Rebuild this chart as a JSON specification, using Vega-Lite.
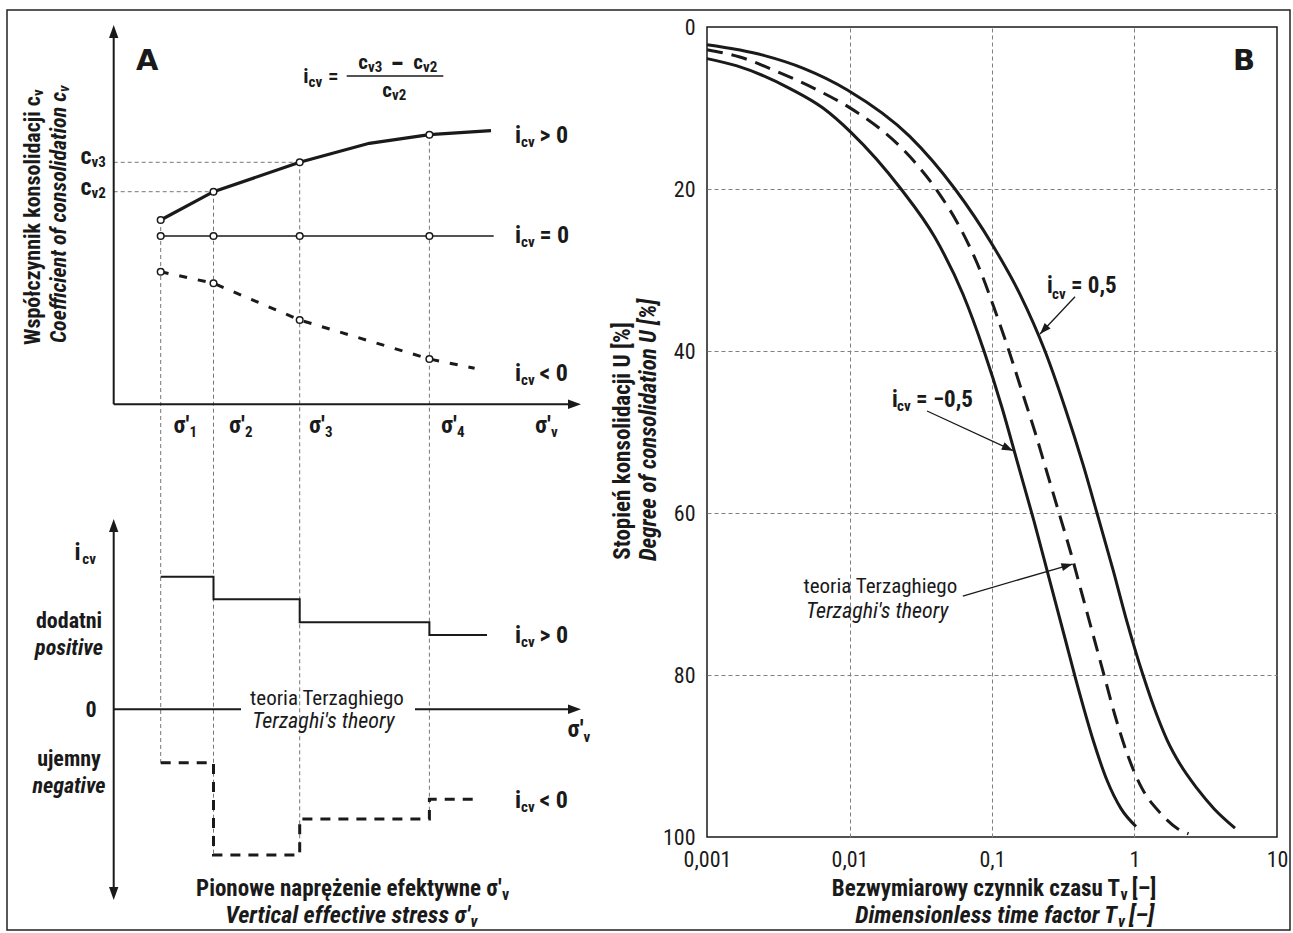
{
"$schema":"https://vega.github.io/schema/vega-lite/v6.json",
"background":"white",
"padding":{"left":6,"top":9,"right":0,"bottom":0},
"bounds":"flush",
"spacing":80,
"config":{
 "text":{"font":"Liberation Sans Narrow, Arial Narrow, Roboto Condensed, DejaVu Sans Condensed, sans-serif","color":"#1a1a1a","align":"left","baseline":"alphabetic"},
 "axis":{"labelFont":"Liberation Sans Narrow, Arial Narrow, Roboto Condensed, DejaVu Sans Condensed, sans-serif","labelColor":"#1a1a1a"}
},
"datasets":{
 "frame":[{"x":0,"y":-1.7,"x2":128.3,"y2":90.3}],
 "axes":[
  {"x":10.67,"y":37.73,"x2":10.67,"y2":1.0},
  {"x":10.67,"y":37.73,"x2":56.4,"y2":37.73},
  {"x":10.67,"y":50.4,"x2":10.67,"y2":86.1},
  {"x":10.67,"y":68.23,"x2":23.4,"y2":68.23},
  {"x":40.8,"y":68.23,"x2":56.4,"y2":68.23}
 ],
 "heads":[
  {"x":10.67,"y":-0.2,"dir":0},
  {"x":57.4,"y":37.73,"dir":90},
  {"x":10.67,"y":49.2,"dir":0},
  {"x":10.67,"y":87.3,"dir":180},
  {"x":57.4,"y":68.23,"dir":90}
 ],
 "frac":[{"x":33.97,"y":4.9,"x2":43.63,"y2":4.9}],
 "guides":[
  {"x":10.67,"y":13.53,"x2":29.27,"y2":13.53},
  {"x":10.67,"y":16.47,"x2":20.65,"y2":16.47},
  {"x":15.37,"y":19.3,"x2":15.37,"y2":73.57},
  {"x":20.65,"y":16.47,"x2":20.65,"y2":82.8},
  {"x":29.27,"y":13.53,"x2":29.27,"y2":82.8},
  {"x":42.24,"y":10.77,"x2":42.24,"y2":79.2}
 ],
 "cv":[
  {"x":15.37,"y":19.3,"s":"inc"},{"x":20.65,"y":16.47,"s":"inc"},{"x":29.27,"y":13.53,"s":"inc"},{"x":36.23,"y":11.63,"s":"inc"},{"x":42.24,"y":10.77,"s":"inc"},{"x":48.4,"y":10.37,"s":"inc"},
  {"x":15.37,"y":20.9,"s":"zero"},{"x":48.67,"y":20.9,"s":"zero"},
  {"x":15.37,"y":24.47,"s":"dec"},{"x":20.65,"y":25.63,"s":"dec"},{"x":29.27,"y":29.3,"s":"dec"},{"x":42.24,"y":33.2,"s":"dec"},{"x":46.76,"y":34.13,"s":"dec"}
 ],
 "markers":[
  {"x":15.37,"y":19.3},{"x":20.65,"y":16.47},{"x":29.27,"y":13.53},{"x":42.24,"y":10.77},
  {"x":15.37,"y":20.9},{"x":20.65,"y":20.9},{"x":29.27,"y":20.9},{"x":42.24,"y":20.9},
  {"x":15.37,"y":24.47},{"x":20.65,"y":25.63},{"x":29.27,"y":29.3},{"x":42.24,"y":33.2}
 ],
 "steps":[
  {"x":15.37,"y":54.97,"s":"pos"},{"x":20.65,"y":57.23,"s":"pos"},{"x":29.27,"y":59.53,"s":"pos"},{"x":42.24,"y":60.8,"s":"pos"},{"x":48.0,"y":60.8,"s":"pos"},
  {"x":15.37,"y":73.57,"s":"neg"},{"x":20.65,"y":82.8,"s":"neg"},{"x":29.27,"y":79.2,"s":"neg"},{"x":42.24,"y":77.23,"s":"neg"},{"x":46.76,"y":77.23,"s":"neg"}
 ],
 "atext":[
  {"x":50.8,"y":11.6,"t":"i","role":"main"},{"x":53.25,"y":11.6,"t":"> 0","role":"main"},
  {"x":50.8,"y":21.6,"t":"i","role":"main"},{"x":53.25,"y":21.6,"t":"= 0","role":"main"},
  {"x":50.8,"y":35.4,"t":"i","role":"main"},{"x":53.25,"y":35.4,"t":"< 0","role":"main"},
  {"x":50.8,"y":61.63,"t":"i","role":"main"},{"x":53.25,"y":61.63,"t":"> 0","role":"main"},
  {"x":50.8,"y":78.13,"t":"i","role":"main"},{"x":53.25,"y":78.13,"t":"< 0","role":"main"},
  {"x":6.76,"y":53.3,"t":"i","role":"main"},
  {"x":18.24,"y":40.6,"t":"σ'","role":"mainr"},{"x":23.8,"y":40.6,"t":"σ'","role":"mainr"},{"x":31.8,"y":40.6,"t":"σ'","role":"mainr"},{"x":45.0,"y":40.6,"t":"σ'","role":"mainr"},{"x":54.4,"y":40.6,"t":"σ'","role":"mainr"},
  {"x":57.66,"y":71.0,"t":"σ'","role":"mainr"},
  {"x":8.45,"y":13.7,"t":"c","role":"mainr"},{"x":8.45,"y":16.8,"t":"c","role":"mainr"},
  {"x":51.4,"y":12.0,"t":"cv","role":"sub"},{"x":51.4,"y":22.0,"t":"cv","role":"sub"},{"x":51.4,"y":35.8,"t":"cv","role":"sub"},
  {"x":51.4,"y":61.97,"t":"cv","role":"sub"},{"x":51.4,"y":78.47,"t":"cv","role":"sub"},{"x":7.53,"y":53.7,"t":"cv","role":"sub"},
  {"x":18.24,"y":41.0,"t":"1","role":"sub"},{"x":23.8,"y":41.0,"t":"2","role":"sub"},{"x":31.8,"y":41.0,"t":"3","role":"sub"},{"x":45.0,"y":41.0,"t":"4","role":"sub"},{"x":54.4,"y":41.0,"t":"v","role":"sub"},
  {"x":57.66,"y":71.5,"t":"v","role":"sub"},
  {"x":8.45,"y":14.0,"t":"v3","role":"sub"},{"x":8.45,"y":17.1,"t":"v2","role":"sub"},
  {"x":32.1,"y":5.6,"t":"=","role":"fmain"},
  {"x":38.35,"y":4.55,"t":"−","role":"fminus"},
  {"x":30.15,"y":5.6,"t":"i","role":"fmainr"},{"x":36.1,"y":4.2,"t":"c","role":"fmainr"},{"x":41.6,"y":4.2,"t":"c","role":"fmainr"},{"x":38.5,"y":7.0,"t":"c","role":"fmainr"},
  {"x":30.15,"y":6.0,"t":"cv","role":"fsub"},{"x":36.1,"y":4.5,"t":"v3","role":"fsub"},{"x":41.6,"y":4.5,"t":"v2","role":"fsub"},{"x":38.5,"y":7.3,"t":"v2","role":"fsub"},
  {"x":12.9,"y":4.3,"t":"A","role":"big"},
  {"x":6.2,"y":60.1,"t":"dodatni","role":"cbold"},{"x":6.2,"y":73.9,"t":"ujemny","role":"cbold"},{"x":8.4,"y":68.97,"t":"0","role":"cbold"},
  {"x":6.2,"y":62.75,"t":"positive","role":"cbi"},{"x":6.2,"y":76.55,"t":"negative","role":"cbi"},
  {"x":32.0,"y":67.8,"t":"teoria Terzaghiego","role":"creg"},
  {"x":31.64,"y":70.13,"t":"Terzaghi's theory","role":"cital"},
  {"x":49.47,"y":86.9,"t":"Pionowe naprężenie efektywne σ'","role":"tr"},{"x":111.3,"y":86.9,"t":"Bezwymiarowy czynnik czasu T","role":"tr"},
  {"x":46.3,"y":89.63,"t":"Vertical effective stress σ'","role":"tri"},{"x":111.0,"y":89.63,"t":"Dimensionless time factor T","role":"tri"},
  {"x":49.5,"y":87.3,"t":"v","role":"ts"},{"x":111.35,"y":87.3,"t":"v","role":"ts"},
  {"x":46.35,"y":90.0,"t":"v","role":"tsi"},{"x":111.1,"y":90.0,"t":"v","role":"tsi"},
  {"x":112.47,"y":86.9,"t":"[–]","role":"tl"},
  {"x":112.2,"y":89.63,"t":"[–]","role":"tli"},
  {"x":3.3,"y":6.9,"t":"Współczynnik konsolidacji c","role":"rot"},
  {"x":5.9,"y":6.5,"t":"Coefficient of consolidation c","role":"roti"},
  {"x":3.6,"y":6.9,"t":"v","role":"rotsub"},
  {"x":6.2,"y":6.5,"t":"v","role":"rotsubi"},
  {"x":62.3,"y":41.4,"t":"Stopień konsolidacji U [%]","role":"rotc"},
  {"x":64.9,"y":40.3,"t":"Degree of consolidation U [%]","role":"rotci"}
 ],
 "U":[
  {"Tv":0.001,"U":2.2,"c":"pos"},{"Tv":0.0025,"U":3.5,"c":"pos"},{"Tv":0.004755,"U":5.1,"c":"pos"},{"Tv":0.00973,"U":7.8,"c":"pos"},{"Tv":0.02646,"U":13.5,"c":"pos"},{"Tv":0.055,"U":20,"c":"pos"},{"Tv":0.1016,"U":27,"c":"pos"},{"Tv":0.1572,"U":33,"c":"pos"},{"Tv":0.2354,"U":40,"c":"pos"},{"Tv":0.3253,"U":47,"c":"pos"},{"Tv":0.4351,"U":54,"c":"pos"},{"Tv":0.5453,"U":60,"c":"pos"},{"Tv":0.7064,"U":67,"c":"pos"},{"Tv":0.8717,"U":73,"c":"pos"},{"Tv":1.147,"U":80,"c":"pos"},{"Tv":1.439,"U":85,"c":"pos"},{"Tv":1.691,"U":88,"c":"pos"},{"Tv":2.086,"U":91,"c":"pos"},{"Tv":2.746,"U":94,"c":"pos"},{"Tv":3.613,"U":96.5,"c":"pos"},{"Tv":5.074,"U":98.9,"c":"pos"},
  {"Tv":0.001,"U":2.8,"c":"terz"},{"Tv":0.0017,"U":3.7,"c":"terz"},{"Tv":0.0031,"U":5.5,"c":"terz"},{"Tv":0.0063,"U":8.0,"c":"terz"},{"Tv":0.0097,"U":9.8,"c":"terz"},{"Tv":0.0265,"U":16,"c":"terz"},{"Tv":0.04046,"U":20,"c":"terz"},{"Tv":0.06062,"U":25,"c":"terz"},{"Tv":0.08235,"U":30,"c":"terz"},{"Tv":0.105,"U":35,"c":"terz"},{"Tv":0.1316,"U":40,"c":"terz"},{"Tv":0.1624,"U":45,"c":"terz"},{"Tv":0.2003,"U":50,"c":"terz"},{"Tv":0.2432,"U":55,"c":"terz"},{"Tv":0.2953,"U":60,"c":"terz"},{"Tv":0.3584,"U":65,"c":"terz"},{"Tv":0.4281,"U":70,"c":"terz"},{"Tv":0.5114,"U":75,"c":"terz"},{"Tv":0.6109,"U":80,"c":"terz"},{"Tv":0.7298,"U":85,"c":"terz"},{"Tv":0.9003,"U":90,"c":"terz"},{"Tv":1.129,"U":94,"c":"terz"},{"Tv":1.51,"U":97,"c":"terz"},{"Tv":2.02,"U":99,"c":"terz"},{"Tv":2.393,"U":99.6,"c":"terz"},
  {"Tv":0.001,"U":3.9,"c":"neg"},{"Tv":0.001624,"U":4.8,"c":"neg"},{"Tv":0.003824,"U":7.6,"c":"neg"},{"Tv":0.006516,"U":10,"c":"neg"},{"Tv":0.01024,"U":13,"c":"neg"},{"Tv":0.02298,"U":20,"c":"neg"},{"Tv":0.03981,"U":26,"c":"neg"},{"Tv":0.06258,"U":33,"c":"neg"},{"Tv":0.08788,"U":40,"c":"neg"},{"Tv":0.1176,"U":47,"c":"neg"},{"Tv":0.1522,"U":54,"c":"neg"},{"Tv":0.1971,"U":61,"c":"neg"},{"Tv":0.2512,"U":68,"c":"neg"},{"Tv":0.32,"U":75,"c":"neg"},{"Tv":0.4078,"U":82,"c":"neg"},{"Tv":0.5114,"U":88,"c":"neg"},{"Tv":0.6412,"U":93,"c":"neg"},{"Tv":0.8043,"U":96.5,"c":"neg"},{"Tv":1.0245,"U":98.7,"c":"neg"}
 ],
 "barrows":[
  {"Tv":0.3825,"U":33.3,"Tv2":0.2172,"U2":37.9},
  {"Tv":0.03499,"U":47.41,"Tv2":0.1404,"U2":52.31},
  {"Tv":0.06239,"U":70.25,"Tv2":0.3678,"U2":66.3}
 ],
 "bheads":[
  {"Tv":0.2172,"U":37.9,"dir":223},
  {"Tv":0.1404,"U":52.31,"dir":115},
  {"Tv":0.3678,"U":66.3,"dir":74}
 ],
 "btext":[
  {"Tv":0.2432,"U":32.9,"t":"i","role":"bmain"},{"Tv":0.3583,"U":32.9,"t":"= 0,5","role":"bmain"},
  {"Tv":0.01987,"U":46.87,"t":"i","role":"bmain"},{"Tv":0.02929,"U":46.87,"t":"= −0,5","role":"bmain"},
  {"Tv":0.2636,"U":33.52,"t":"cv","role":"bsub"},{"Tv":0.02154,"U":47.37,"t":"cv","role":"bsub"},
  {"Tv":0.004755,"U":69.92,"t":"teoria Terzaghiego","role":"breg"},
  {"Tv":0.004951,"U":72.92,"t":"Terzaghi's theory","role":"bital"},
  {"Tv":7.01,"U":5.31,"t":"B","role":"bbig"}
 ]
},
"hconcat":[
 {
  "width":620,"height":903,
  "view":{"stroke":null},
  "encoding":{
   "x":{"field":"x","type":"quantitative","scale":{"domain":[0,62],"nice":false,"zero":false},"axis":null},
   "y":{"field":"y","type":"quantitative","scale":{"domain":[0,90.3],"reverse":true,"nice":false,"zero":false},"axis":null}
  },
  "layer":[
   {"data":{"name":"frame"},"mark":{"type":"rect","filled":false,"color":"#222","strokeWidth":1.5},"encoding":{"x2":{"field":"x2"},"y2":{"field":"y2"}}},
   {"data":{"name":"guides"},"mark":{"type":"rule","color":"#777","strokeWidth":1,"strokeDash":[4,3]},"encoding":{"x2":{"field":"x2"},"y2":{"field":"y2"}}},
   {"data":{"name":"axes"},"mark":{"type":"rule","color":"#1a1a1a","strokeWidth":2},"encoding":{"x2":{"field":"x2"},"y2":{"field":"y2"}}},
   {"data":{"name":"frac"},"mark":{"type":"rule","color":"#1a1a1a","strokeWidth":1.5},"encoding":{"x2":{"field":"x2"},"y2":{"field":"y2"}}},
   {"data":{"name":"heads"},"mark":{"type":"point","shape":"M0,0L-0.36,1L0.36,1Z","size":676,"filled":true,"color":"#1a1a1a","opacity":1,"strokeWidth":0},"encoding":{"angle":{"field":"dir","type":"quantitative","scale":null}}},
   {"data":{"name":"cv"},"transform":[{"filter":"datum.s==='inc'"}],"mark":{"type":"line","color":"#1a1a1a","strokeWidth":3.2},"encoding":{}},
   {"data":{"name":"cv"},"transform":[{"filter":"datum.s==='zero'"}],"mark":{"type":"line","color":"#1a1a1a","strokeWidth":1.5},"encoding":{}},
   {"data":{"name":"cv"},"transform":[{"filter":"datum.s==='dec'"}],"mark":{"type":"line","color":"#1a1a1a","strokeWidth":3,"strokeDash":[8,11]},"encoding":{}},
   {"data":{"name":"markers"},"mark":{"type":"point","shape":"circle","size":44,"filled":true,"fill":"white","stroke":"#1a1a1a","strokeWidth":1.5,"opacity":1},"encoding":{}},
   {"data":{"name":"steps"},"transform":[{"filter":"datum.s==='pos'"}],"mark":{"type":"line","color":"#1a1a1a","strokeWidth":2,"interpolate":"step-after"},"encoding":{}},
   {"data":{"name":"steps"},"transform":[{"filter":"datum.s==='neg'"}],"mark":{"type":"line","color":"#1a1a1a","strokeWidth":3,"strokeDash":[10,8],"interpolate":"step-after"},"encoding":{}},
   {"data":{"name":"atext"},"transform":[{"filter":"datum.role==='main'"}],"mark":{"type":"text","fontWeight":"bold","fontSize":24},"encoding":{"text":{"field":"t"}}},
   {"data":{"name":"atext"},"transform":[{"filter":"datum.role==='mainr'"}],"mark":{"type":"text","fontWeight":"bold","fontSize":24,"align":"right"},"encoding":{"text":{"field":"t"}}},
   {"data":{"name":"atext"},"transform":[{"filter":"datum.role==='sub'"}],"mark":{"type":"text","fontWeight":"bold","fontSize":15},"encoding":{"text":{"field":"t"}}},
   {"data":{"name":"atext"},"transform":[{"filter":"datum.role==='fmain'"}],"mark":{"type":"text","fontWeight":"bold","fontSize":21},"encoding":{"text":{"field":"t"}}},
   {"data":{"name":"atext"},"transform":[{"filter":"datum.role==='fminus'"}],"mark":{"type":"text","fontWeight":"bold","fontSize":28},"encoding":{"text":{"field":"t"}}},
   {"data":{"name":"atext"},"transform":[{"filter":"datum.role==='fmainr'"}],"mark":{"type":"text","fontWeight":"bold","fontSize":21,"align":"right"},"encoding":{"text":{"field":"t"}}},
   {"data":{"name":"atext"},"transform":[{"filter":"datum.role==='fsub'"}],"mark":{"type":"text","fontWeight":"bold","fontSize":15},"encoding":{"text":{"field":"t"}}},
   {"data":{"name":"atext"},"transform":[{"filter":"datum.role==='big'"}],"mark":{"type":"text","font":"DejaVu Sans","fontWeight":"bold","fontSize":29},"encoding":{"text":{"field":"t"}}},
   {"data":{"name":"atext"},"transform":[{"filter":"datum.role==='cbold'"}],"mark":{"type":"text","fontWeight":"bold","fontSize":22,"align":"center"},"encoding":{"text":{"field":"t"}}},
   {"data":{"name":"atext"},"transform":[{"filter":"datum.role==='cbi'"}],"mark":{"type":"text","fontWeight":"bold","fontStyle":"italic","fontSize":22,"align":"center"},"encoding":{"text":{"field":"t"}}},
   {"data":{"name":"atext"},"transform":[{"filter":"datum.role==='creg'"}],"mark":{"type":"text","fontSize":21,"align":"center"},"encoding":{"text":{"field":"t"}}},
   {"data":{"name":"atext"},"transform":[{"filter":"datum.role==='cital'"}],"mark":{"type":"text","fontStyle":"italic","fontSize":22,"align":"center"},"encoding":{"text":{"field":"t"}}},
   {"data":{"name":"atext"},"transform":[{"filter":"datum.role==='tr'"}],"mark":{"type":"text","fontWeight":"bold","fontSize":23,"align":"right"},"encoding":{"text":{"field":"t"}}},
   {"data":{"name":"atext"},"transform":[{"filter":"datum.role==='tri'"}],"mark":{"type":"text","fontWeight":"bold","fontStyle":"italic","fontSize":24,"align":"right"},"encoding":{"text":{"field":"t"}}},
   {"data":{"name":"atext"},"transform":[{"filter":"datum.role==='ts'"}],"mark":{"type":"text","fontWeight":"bold","fontSize":16},"encoding":{"text":{"field":"t"}}},
   {"data":{"name":"atext"},"transform":[{"filter":"datum.role==='tsi'"}],"mark":{"type":"text","fontWeight":"bold","fontStyle":"italic","fontSize":16},"encoding":{"text":{"field":"t"}}},
   {"data":{"name":"atext"},"transform":[{"filter":"datum.role==='tl'"}],"mark":{"type":"text","fontWeight":"bold","fontSize":23},"encoding":{"text":{"field":"t"}}},
   {"data":{"name":"atext"},"transform":[{"filter":"datum.role==='tli'"}],"mark":{"type":"text","fontWeight":"bold","fontStyle":"italic","fontSize":24},"encoding":{"text":{"field":"t"}}},
   {"data":{"name":"atext"},"transform":[{"filter":"datum.role==='rot'"}],"mark":{"type":"text","fontWeight":"bold","fontSize":22,"angle":270,"align":"right"},"encoding":{"text":{"field":"t"}}},
   {"data":{"name":"atext"},"transform":[{"filter":"datum.role==='roti'"}],"mark":{"type":"text","fontWeight":"bold","fontStyle":"italic","fontSize":22,"angle":270,"align":"right"},"encoding":{"text":{"field":"t"}}},
   {"data":{"name":"atext"},"transform":[{"filter":"datum.role==='rotsub'"}],"mark":{"type":"text","fontWeight":"bold","fontSize":15,"angle":270},"encoding":{"text":{"field":"t"}}},
   {"data":{"name":"atext"},"transform":[{"filter":"datum.role==='rotsubi'"}],"mark":{"type":"text","fontWeight":"bold","fontStyle":"italic","fontSize":15,"angle":270},"encoding":{"text":{"field":"t"}}},
   {"data":{"name":"atext"},"transform":[{"filter":"datum.role==='rotc'"}],"mark":{"type":"text","fontWeight":"bold","fontSize":23,"angle":270,"align":"center"},"encoding":{"text":{"field":"t"}}},
   {"data":{"name":"atext"},"transform":[{"filter":"datum.role==='rotci'"}],"mark":{"type":"text","fontWeight":"bold","fontStyle":"italic","fontSize":23,"angle":270,"align":"center"},"encoding":{"text":{"field":"t"}}}
  ]
 },
 {
  "width":570,"height":810,
  "view":{"stroke":"#1a1a1a","strokeWidth":1.5},
  "encoding":{
   "x":{"field":"Tv","type":"quantitative","scale":{"type":"log","domain":[0.001,10],"nice":false},
        "axis":{"values":[0.001,0.01,0.1,1,10],"labelExpr":"replace(format(datum.value, '~g'), '.', ',')","labelFontSize":22,"labelPadding":12,"labelFlush":false,"labelOverlap":false,"ticks":false,"domain":false,"grid":true,"gridDash":[4,3],"gridWidth":1,"gridColor":{"condition":{"test":"datum.value <= 0.0011 || datum.value >= 9.9","value":"transparent"},"value":"#808080"},"title":null}},
   "y":{"field":"U","type":"quantitative","scale":{"domain":[0,100],"reverse":true,"nice":false,"zero":false},
        "axis":{"values":[0,20,40,60,80,100],"labelFontSize":22,"labelPadding":12,"labelFlush":false,"ticks":false,"domain":false,"grid":true,"gridDash":[4,3],"gridWidth":1,"gridColor":{"condition":{"test":"datum.value <= 0 || datum.value >= 100","value":"transparent"},"value":"#808080"},"title":null}}
  },
  "layer":[
   {"data":{"name":"U"},"transform":[{"filter":"datum.c!=='terz'"}],"mark":{"type":"line","color":"#1a1a1a","strokeWidth":3,"interpolate":"monotone"},"encoding":{"detail":{"field":"c"}}},
   {"data":{"name":"U"},"transform":[{"filter":"datum.c==='terz'"}],"mark":{"type":"line","color":"#1a1a1a","strokeWidth":3,"strokeDash":[16,9],"interpolate":"monotone"},"encoding":{}},
   {"data":{"name":"barrows"},"mark":{"type":"rule","color":"#1a1a1a","strokeWidth":1.3},"encoding":{"x2":{"field":"Tv2"},"y2":{"field":"U2"}}},
   {"data":{"name":"bheads"},"mark":{"type":"point","shape":"M0,0L-0.36,1L0.36,1Z","size":500,"filled":true,"color":"#1a1a1a","opacity":1,"strokeWidth":0},"encoding":{"angle":{"field":"dir","type":"quantitative","scale":null}}},
   {"data":{"name":"btext"},"transform":[{"filter":"datum.role==='bmain'"}],"mark":{"type":"text","fontWeight":"bold","fontSize":23},"encoding":{"text":{"field":"t"}}},
   {"data":{"name":"btext"},"transform":[{"filter":"datum.role==='bsub'"}],"mark":{"type":"text","fontWeight":"bold","fontSize":15},"encoding":{"text":{"field":"t"}}},
   {"data":{"name":"btext"},"transform":[{"filter":"datum.role==='breg'"}],"mark":{"type":"text","fontSize":21},"encoding":{"text":{"field":"t"}}},
   {"data":{"name":"btext"},"transform":[{"filter":"datum.role==='bital'"}],"mark":{"type":"text","fontStyle":"italic","fontSize":22},"encoding":{"text":{"field":"t"}}},
   {"data":{"name":"btext"},"transform":[{"filter":"datum.role==='bbig'"}],"mark":{"type":"text","font":"DejaVu Sans","fontWeight":"bold","fontSize":29,"align":"right"},"encoding":{"text":{"field":"t"}}}
  ]
 }
]
}
